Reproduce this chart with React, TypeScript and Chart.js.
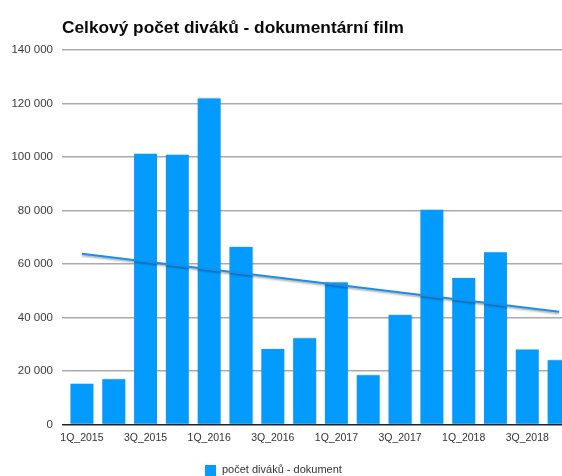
import React, { useEffect, useRef } from "react";
import { Chart, registerables } from "chart.js";

Chart.register(...registerables);

const TITLE = "Celkový počet diváků - dokumentární film";
const SERIES_NAME = "počet diváků - dokument";

const categories = [
  "1Q_2015", "2Q_2015", "3Q_2015", "4Q_2015",
  "1Q_2016", "2Q_2016", "3Q_2016", "4Q_2016",
  "1Q_2017", "2Q_2017", "3Q_2017", "4Q_2017",
  "1Q_2018", "2Q_2018", "3Q_2018", "4Q_2018",
];

const viewers = [
  15200, 16900, 101200, 100800,
  121900, 66300, 28200, 32200,
  53100, 18400, 40900, 80300,
  54700, 64400, 28000, 24000,
];

// trend line end points
const trendStart = 63800;
const trendEnd = 42100;

const yTicks = [0, 20000, 40000, 60000, 80000, 100000, 120000, 140000];

const fmt = (v: number) => String(v).replace(/\B(?=(\d{3})+(?!\d))/g, " ");

const FONT = "'Liberation Sans', Arial, Helvetica, sans-serif";
const BAR_COLOR = "#049BFF";
const LINE_COLOR = "#1A8FE8";

export default function App() {
  const ref = useRef<HTMLCanvasElement | null>(null);

  useEffect(() => {
    const canvas = ref.current;
    if (!canvas) return;
    const last = categories.length - 1;
    const trend = categories.map((_, i) => (i === 0 ? trendStart : i === last ? trendEnd : null));

    const shadowPlugin = {
      id: "shadows",
      beforeDatasetDraw(chart: any, args: any) {
        const ctx = chart.ctx;
        ctx.save();
        if (args.meta.type === "line") {
          ctx.shadowColor = "rgba(0,0,0,0.35)";
          ctx.shadowBlur = 2;
          ctx.shadowOffsetX = 0;
          ctx.shadowOffsetY = 1.5;
        } else {
          ctx.shadowColor = "rgba(0,0,0,0.3)";
          ctx.shadowBlur = 1.5;
          ctx.shadowOffsetX = 0.5;
          ctx.shadowOffsetY = 0;
        }
      },
      afterDatasetDraw(chart: any) {
        chart.ctx.restore();
      },
    };

    const chart = new Chart(canvas, {
      type: "bar",
      data: {
        labels: categories,
        datasets: [
          {
            type: "line",
            label: "trend",
            data: trend as any,
            borderColor: LINE_COLOR,
            borderWidth: 2,
            pointRadius: 0,
            spanGaps: true,
            fill: false,
            order: 0,
          } as any,
          {
            type: "bar",
            label: SERIES_NAME,
            data: viewers,
            backgroundColor: BAR_COLOR,
            borderWidth: 0,
            order: 1,
          },
        ],
      },
      options: {
        responsive: false,
        animation: false,
        layout: { padding: { top: 42, right: 33, bottom: 25, left: 0 } },
        plugins: {
          legend: { display: false },
          title: { display: false },
          tooltip: { enabled: false },
        },
        scales: {
          x: {
            grid: { display: false, drawTicks: false },
            border: { display: false },
            ticks: {
              autoSkip: false,
              maxRotation: 0,
              padding: 7,
              color: "#333",
              font: { family: FONT, size: 10.5 },
              callback: (_v: any, i: number) => (i % 2 === 0 ? categories[i] : ""),
            },
          },
          y: {
            min: 0,
            max: 140000,
            afterFit: (s: any) => {
              s.width = 58;
            },
            afterBuildTicks: (s: any) => {
              s.ticks = yTicks.map((v) => ({ value: v }));
            },
            grid: {
              color: (c: any) => (c.tick && c.tick.value === 0 ? "#222" : "#ababab"),
              lineWidth: 1.5,
              tickLength: 4,
              drawTicks: true,
            },
            border: { display: false },
            ticks: {
              padding: 9,
              color: "#3a3a3a",
              font: { family: FONT, size: 11.5 },
              callback: (v: any) => fmt(Number(v)),
            },
          },
        },
      },
      plugins: [shadowPlugin],
    });
    return () => chart.destroy();
  }, []);

  return (
    <div style={{ position: "fixed", left: 8, top: 8, width: 554, height: 468, overflow: "hidden" }}>
      <canvas ref={ref} width={600} height={468} style={{ position: "absolute", left: 0, top: 0, width: 600, height: 468 }} />
      <div
        style={{
          position: "absolute",
          left: 54,
          top: 9,
          font: `bold 17.3px ${FONT}`,
          lineHeight: "20px",
          color: "#0a0a0a",
          whiteSpace: "nowrap",
        }}
      >
        {TITLE}
      </div>
      <div style={{ position: "absolute", left: 197, top: 457, width: 11, height: 11, background: BAR_COLOR }} />
      <div
        style={{
          position: "absolute",
          left: 214,
          top: 455,
          font: `11px ${FONT}`,
          lineHeight: "13px",
          color: "#333",
          whiteSpace: "nowrap",
        }}
      >
        {SERIES_NAME}
      </div>
    </div>
  );
}
